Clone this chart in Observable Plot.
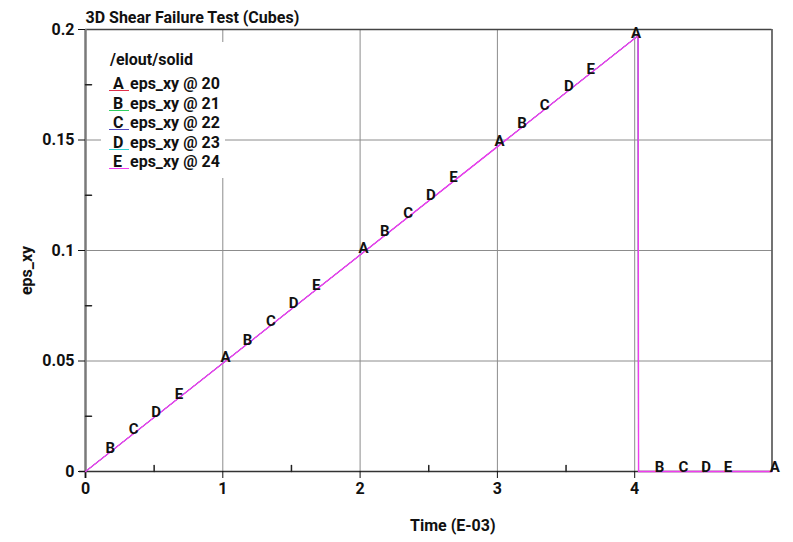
<!DOCTYPE html>
<html><head><meta charset="utf-8">
<script src="https://cdn.jsdelivr.net/npm/d3@7"></script>
<script src="https://cdn.jsdelivr.net/npm/@observablehq/plot@0.6"></script>
<style>
body{margin:0;background:#fff;}
#chart{position:relative;width:793px;height:542px;font-family:Roboto,"Liberation Sans",sans-serif;font-weight:bold;}
#legend{position:absolute;left:101px;top:42px;width:124px;height:136px;background:#fff;font-size:16px;color:#111;}
#legend .hdr{position:absolute;left:9px;top:8px;line-height:20px;}
#legend .row{position:absolute;left:0;height:20px;line-height:20px;}
#legend .let{position:absolute;left:12px;top:0;}
#legend .ul{position:absolute;left:8px;top:16px;width:20px;height:0;border-top:1.5px solid;}
#legend .txt{position:absolute;left:29px;top:0;white-space:nowrap;}
</style></head><body><div id="chart"></div>
<script>
// ---- data ----
const seriesNames = ["A", "B", "C", "D", "E"];
const seriesLabels = ["eps_xy @ 20", "eps_xy @ 21", "eps_xy @ 22", "eps_xy @ 23", "eps_xy @ 24"];
const seriesColors = ["#e0304a", "#30d060", "#5048c0", "#30d0d0", "#f03cf0"];
const timeA = [0, 4.025, 4.028, 5.0];
const valueA = [0, 0.1972, 0, 0];
const timeB = [0, 4.025, 4.028, 5.0];
const valueB = [0, 0.1972, 0, 0];
const timeC = [0, 4.025, 4.028, 5.0];
const valueC = [0, 0.1972, 0, 0];
const timeD = [0, 4.025, 4.028, 5.0];
const valueD = [0, 0.1972, 0, 0];
const timeE = [0, 4.025, 4.028, 5.0];
const valueE = [0, 0.1972, 0, 0];
// positions (time) of the letter markers along each curve
const markA = [1.02, 2.025, 3.015, 4.01, 5.02];
const markB = [0.18, 1.18, 2.18, 3.18, 4.18];
const markC = [0.35, 1.35, 2.35, 3.345, 4.355];
const markD = [0.515, 1.515, 2.515, 3.52, 4.52];
const markE = [0.68, 1.68, 2.68, 3.68, 4.68];
const xTicks = [0, 1, 2, 3, 4];
const yTicks = [0, 0.05, 0.1, 0.15, 0.2];
const xMinor = [0.5, 1.5, 2.5, 3.5, 4.5];
const yMinor = [0.025, 0.075, 0.125, 0.175];
const title = "3D Shear Failure Test (Cubes)";
const xLabel = "Time (E-03)";
const yLabel = "eps_xy";
const legendTitle = "/elout/solid";

// ---- build ----
const times = [timeA, timeB, timeC, timeD, timeE];
const values = [valueA, valueB, valueC, valueD, valueE];
const marks = [markA, markB, markC, markD, markE];
const lineData = [];
const labelData = [];
seriesNames.forEach((s, i) => {
  times[i].forEach((t, j) => lineData.push({series: s, t, v: values[i][j], last: i === seriesNames.length - 1}));
  const interp = d3.scaleLinear().domain(times[i]).range(values[i]).clamp(true);
  marks[i].forEach(t => labelData.push({series: s, t, v: interp(t)}));
});

const tickShape = {draw(ctx, l) { ctx.moveTo(0, 0); ctx.lineTo(0, -l); }};
const fmt = d => String(d);
const FS = 16;

const plot = Plot.plot({
  width: 793, height: 542,
  marginLeft: 85, marginRight: 21.5, marginTop: 29, marginBottom: 71,
  style: {fontFamily: "Roboto, 'Liberation Sans', sans-serif", fontWeight: "bold", fontSize: FS + "px", color: "#111", background: "#fff"},
  x: {domain: [0, 5]},
  y: {domain: [0, 0.2]},
  color: {domain: seriesNames, range: seriesColors},
  marks: [
    Plot.gridX(xTicks.slice(1), {stroke: "#8c8c8c", strokeOpacity: 1}),
    Plot.gridY(yTicks.slice(1, -1), {stroke: "#8c8c8c", strokeOpacity: 1}),
    Plot.ruleY([0.2], {stroke: "#444", strokeWidth: 1.5}),
    Plot.ruleX([5], {stroke: "#444", strokeWidth: 1.5}),
    Plot.ruleX([0], {stroke: "#7a7a7a", strokeWidth: 2.5, insetBottom: -7}),
    Plot.ruleY([0], {stroke: "#333", strokeWidth: 1.5, insetLeft: -6}),
    Plot.vector(xMinor, {x: d => d, y: () => 0, length: 6, rotate: 0, anchor: "start", shape: tickShape, stroke: "#222"}),
    Plot.vector(yMinor, {x: () => 0, y: d => d, length: 6, rotate: 90, anchor: "start", shape: tickShape, stroke: "#222"}),
    Plot.axisX({ticks: xTicks, tickSize: 7, tickPadding: 4, tickFormat: fmt, label: null, fontSize: FS, fontWeight: "bold"}),
    Plot.axisY({ticks: yTicks, tickSize: 7, tickPadding: 4, tickFormat: fmt, label: null, fontSize: FS, fontWeight: "bold"}),
    Plot.line(lineData.filter(d => !d.last), {x: "t", y: "v", z: "series", stroke: "series", strokeWidth: 0.8}),
    Plot.line(lineData.filter(d => d.last), {x: "t", y: "v", z: "series", stroke: "series", strokeWidth: 1.4}),
    Plot.text(labelData, {x: "t", y: "v", text: "series", dy: -4, fill: "#111", fontSize: 15, fontWeight: "bold"}),
    Plot.text([title], {frameAnchor: "top-left", textAnchor: "start", lineAnchor: "middle", dy: -12, fontSize: FS, fontWeight: "bold", fill: "#111"}),
    Plot.text([xLabel], {frameAnchor: "bottom", textAnchor: "middle", lineAnchor: "middle", dx: 24, dy: 54, fontSize: FS, fontWeight: "bold", fill: "#111"}),
    Plot.text([yLabel], {frameAnchor: "left", textAnchor: "middle", lineAnchor: "middle", rotate: -90, dx: -59, dy: 20, fontSize: FS, fontWeight: "bold", fill: "#111"})
  ]
});
const chart = document.getElementById("chart");
chart.appendChild(plot);

const legend = document.createElement("div");
legend.id = "legend";
const hdr = document.createElement("div");
hdr.className = "hdr";
hdr.textContent = legendTitle;
legend.appendChild(hdr);
seriesNames.forEach((s, i) => {
  const row = document.createElement("div");
  row.className = "row";
  row.style.top = (32 + i * 19.5) + "px";
  row.innerHTML = `<span class="let"></span><span class="ul"></span><span class="txt"></span>`;
  row.querySelector(".let").textContent = s;
  row.querySelector(".ul").style.borderColor = seriesColors[i];
  row.querySelector(".txt").textContent = seriesLabels[i];
  legend.appendChild(row);
});
chart.appendChild(legend);
</script>
</body></html>
